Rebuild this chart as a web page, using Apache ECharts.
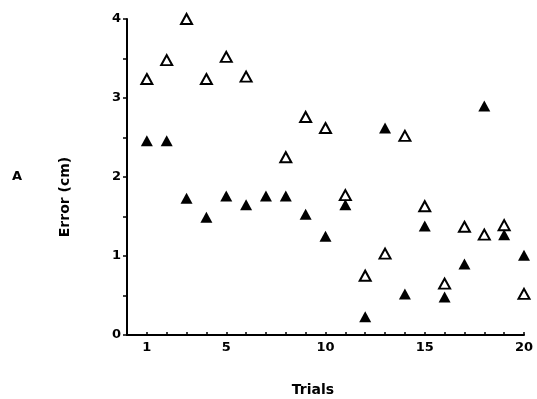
<!DOCTYPE html>
<html>
<head>
<meta charset="utf-8">
<script src="https://cdn.jsdelivr.net/npm/echarts@6/dist/echarts.min.js"></script>
<style>html,body{margin:0;padding:0;background:#fff}#c{width:537px;height:399px}</style>
</head>
<body>
<div id="c"></div>
<script>
var trials = [1,2,3,4,5,6,7,8,9,10,11,12,13,14,15,16,17,18,19,20];
var openErr = [3.24,3.48,4.0,3.24,3.52,3.27,null,2.25,2.76,2.62,1.77,0.75,1.03,2.52,1.63,0.65,1.37,1.27,1.39,0.52];
var filledErr = [2.46,2.46,1.73,1.49,1.76,1.65,1.76,1.76,1.53,1.25,1.65,0.23,2.62,0.52,1.38,0.48,0.90,2.90,1.27,1.01];
var xTickLabels = [1,5,10,15,20];
var yTickLabels = [0,1,2,3,4];

function pairs(vals){ return trials.map(function(t,i){ return vals[i]==null ? null : [t, vals[i]]; }).filter(function(p){return p;}); }

var font = 'DejaVu Sans';
var chart = echarts.init(document.getElementById('c'), null, {renderer:'canvas'});
chart.setOption({
  animation:false,
  backgroundColor:'#fff',
  grid:{left:127, right:13, top:19, bottom:64},
  xAxis:{
    type:'value', min:0, max:20, interval:1,
    axisLine:{lineStyle:{color:'#000', width:2}},
    axisTick:{inside:true, length:3, lineStyle:{color:'#000', width:1.5}},
    splitLine:{show:false},
    axisLabel:{margin:6, color:'#000', fontFamily:font, fontWeight:'bold', fontSize:13,
      formatter:function(v){ return xTickLabels.indexOf(v)>=0 ? String(v) : ''; }}
  },
  yAxis:{
    type:'value', min:0, max:4, interval:0.5,
    axisLine:{show:true, lineStyle:{color:'#000', width:2}},
    axisTick:{show:true, inside:false, length:4, lineStyle:{color:'#000', width:1.5}},
    splitLine:{show:false},
    axisLabel:{margin:6, color:'#000', fontFamily:font, fontWeight:'bold', fontSize:13,
      formatter:function(v){ return yTickLabels.indexOf(v)>=0 ? String(v) : ''; }}
  },
  graphic:[
    {type:'text', left:12, top:170, style:{text:'A', font:'bold 13px "DejaVu Sans"', fill:'#000'}},
    {type:'text', x:65, y:197, rotation:Math.PI/2, style:{text:'Error (cm)', font:'bold 14px "DejaVu Sans"', fill:'#000', textAlign:'center', textVerticalAlign:'middle'}},
    {type:'text', x:313, y:390, style:{text:'Trials', font:'bold 14px "DejaVu Sans"', fill:'#000', textAlign:'center', textVerticalAlign:'middle'}}
  ],
  series:[
    {type:'scatter', data:pairs(openErr), symbol:'triangle', symbolSize:[11,10],
     itemStyle:{color:'#fff', borderColor:'#000', borderWidth:2, opacity:1}},
    {type:'scatter', data:pairs(filledErr), symbol:'triangle', symbolSize:[12,11],
     itemStyle:{color:'#000', opacity:1}}
  ]
});
</script>
</body>
</html>
